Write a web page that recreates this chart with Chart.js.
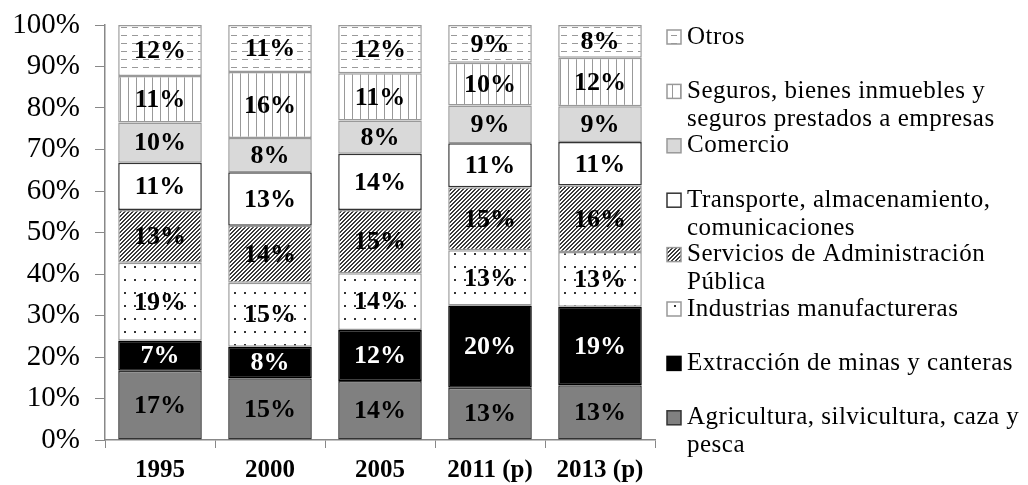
<!DOCTYPE html>
<html>
<head>
<meta charset="utf-8">
<script src="https://cdn.jsdelivr.net/npm/chart.js@4.4.1/dist/chart.umd.min.js"></script>
<style>body{margin:0;background:#fff}</style>
</head>
<body>
<canvas id="chart" width="1028" height="485"></canvas>
<script>
// shares of GDP (%) by sector (bottom to top)
var years = ['1995', '2000', '2005', '2011 (p)', '2013 (p)'];
var agricultura = [16.7, 14.9, 14.2, 12.6, 13.2];
var mineria = [7.2, 7.6, 12.3, 19.8, 18.9];
var manufactura = [18.8, 15.4, 13.7, 13.3, 13.2];
var administracion = [12.7, 13.7, 15.2, 15.2, 16.0];
var transporte = [11.4, 12.9, 13.6, 10.6, 10.5];
var comercio = [9.7, 8.3, 8.0, 9.1, 8.6];
var seguros = [11.2, 15.9, 11.4, 10.3, 11.7];
var otros = [12.3, 11.3, 11.6, 9.1, 7.9];
var yTicks = [0, 10, 20, 30, 40, 50, 60, 70, 80, 90, 100];

var sectorNames = [
  'Agricultura, silvicultura, caza y\npesca',
  'Extracción de minas y canteras',
  'Industrias manufactureras',
  'Servicios de Administración\nPública',
  'Transporte, almacenamiento,\ncomunicaciones',
  'Comercio',
  'Seguros, bienes inmuebles y\nseguros prestados a empresas',
  'Otros'
];

var canvas = document.getElementById('chart');
var ctx = canvas.getContext('2d');

// small tiles used as fill patterns
function pattern(w, h, draw) {
  var c = document.createElement('canvas');
  c.width = w; c.height = h;
  var g = c.getContext('2d');
  g.fillStyle = '#fff';
  g.fillRect(0, 0, w, h);
  draw(g);
  return ctx.createPattern(c, 'repeat');
}

var dashes = pattern(11, 8, function (g) { g.fillStyle = '#999'; g.fillRect(0, 3, 6, 1); });
var vlines = pattern(8, 4, function (g) { g.fillStyle = '#999'; g.fillRect(0, 0, 1, 4); });
var hatch = pattern(4, 4, function (g) {
  g.fillStyle = '#3a3a3a';
  for (var r = 0; r < 4; r++) {
    g.fillRect(3 - r, r, 1, 1);
    g.fillRect((4 - r) % 4, r, 1, 1);
  }
});
var dots = pattern(10, 13, function (g) { g.fillStyle = '#333'; g.fillRect(4, 6, 2, 2); });

var series = [agricultura, mineria, manufactura, administracion, transporte, comercio, seguros, otros];
var fills = ['#808080', '#000000', dots, hatch, '#ffffff', '#d9d9d9', vlines, dashes];
var borders = ['#333', '#000', '#999', '#999', '#333', '#999', '#999', '#999'];

var datasets = series.map(function (d, i) {
  return {
    label: sectorNames[i],
    data: d,
    backgroundColor: fills[i],
    borderColor: borders[i],
    borderWidth: 1.5,
    borderSkipped: false,
    barPercentage: 0.76,
    categoryPercentage: 1
  };
});

// percentage inside each segment
var segmentLabels = {
  id: 'segmentLabels',
  afterDatasetsDraw: function (chart) {
    var c = chart.ctx;
    c.save();
    c.font = 'bold 26px "Liberation Serif"';
    c.textAlign = 'center';
    c.textBaseline = 'middle';
    chart.data.datasets.forEach(function (ds, i) {
      chart.getDatasetMeta(i).data.forEach(function (bar, j) {
        c.fillStyle = i === 1 ? '#fff' : '#000';
        c.fillText(Math.round(ds.data[j]) + '%', bar.x, (bar.y + bar.base) / 2 + 1);
      });
    });
    c.restore();
  }
};

// legend on the right, top entry = top segment
var sideLegend = {
  id: 'sideLegend',
  afterDraw: function (chart) {
    var c = chart.ctx;
    c.save();
    c.font = '25px "Liberation Serif"';
    c.letterSpacing = '0.5px';
    c.textBaseline = 'middle';
    var n = chart.data.datasets.length;
    for (var k = 0; k < n; k++) {
      var ds = chart.data.datasets[n - 1 - k];
      var y = 37 + k * 54.4;
      c.fillStyle = ds.backgroundColor;
      c.fillRect(667, y - 7, 14, 14);
      c.strokeStyle = ds.borderColor;
      c.lineWidth = 1.5;
      c.strokeRect(667, y - 7, 14, 14);
      c.fillStyle = '#000';
      ds.label.split('\n').forEach(function (line, li) {
        c.fillText(line, 687, y + li * 28);
      });
    }
    c.restore();
  }
};

new Chart(canvas, {
  type: 'bar',
  data: { labels: years, datasets: datasets },
  options: {
    responsive: false,
    animation: false,
    layout: { padding: { top: 25, right: 373, left: 0, bottom: 0 } },
    plugins: { legend: { display: false }, tooltip: { enabled: false } },
    scales: {
      x: {
        stacked: true,
        afterFit: function (s) { s.height = 45; },
        grid: { drawOnChartArea: false, tickLength: 8, color: '#888', offset: true },
        border: { color: '#888', width: 1.5 },
        ticks: { color: '#000', padding: 8, font: { family: 'Liberation Serif', size: 25, weight: 'bold' } }
      },
      y: {
        stacked: true,
        min: 0,
        max: 100,
        afterFit: function (s) { s.width = 105; s.paddingTop = 0; s.paddingBottom = 0; },
        afterBuildTicks: function (s) { s.ticks = yTicks.map(function (v) { return { value: v }; }); },
        grid: { drawOnChartArea: false, tickLength: 10, color: '#888' },
        border: { color: '#888', width: 1.5 },
        ticks: {
          color: '#000',
          padding: 15,
          font: { family: 'Liberation Serif', size: 29 },
          callback: function (v) { return v + '%'; }
        }
      }
    }
  },
  plugins: [segmentLabels, sideLegend]
});
</script>
</body>
</html>
